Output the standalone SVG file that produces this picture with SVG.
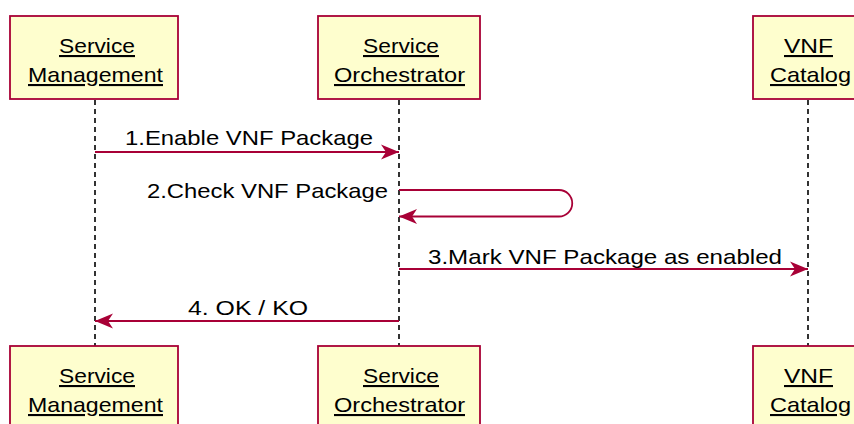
<svg xmlns="http://www.w3.org/2000/svg" width="854" height="424" viewBox="0 0 854 424">
<style>
.box{fill:#FEFECE;stroke:#A80036;stroke-width:1.8}
.life{stroke:#000;stroke-width:1.6;stroke-dasharray:5,4;fill:none}
.msg{stroke:#A80036;stroke-width:1.8;fill:none}
.t{font-family:"Liberation Sans",Arial,sans-serif;font-size:21px;fill:#000}
.n{font-family:"Liberation Sans",Arial,sans-serif;font-size:21px;fill:#000;text-decoration:underline;text-anchor:middle}
</style>
<defs>
<marker id="ah" markerUnits="userSpaceOnUse" markerWidth="22" markerHeight="18" viewBox="-20 -9 22 18" refX="0" refY="0" orient="auto">
<path d="M0,0 L-18,-7.5 L-13,0 L-18,7.5 Z" fill="#A80036"/>
</marker>
</defs>
<g id="lifelines">
<line class="life" x1="95" y1="100" x2="95" y2="346"/>
<line class="life" x1="399" y1="100" x2="399" y2="346"/>
<line class="life" x1="808" y1="100" x2="808" y2="346"/>
</g>
<g id="sm-top">
<rect class="box" x="10" y="16" width="168" height="83"/>
<text class="n" x="97" y="53" textLength="76" lengthAdjust="spacingAndGlyphs">Service</text>
<text class="n" x="95.5" y="82" textLength="135" lengthAdjust="spacingAndGlyphs">Management</text>
</g>
<g id="so-top">
<rect class="box" x="318" y="16" width="162" height="83"/>
<text class="n" x="401" y="53" textLength="76" lengthAdjust="spacingAndGlyphs">Service</text>
<text class="n" x="399.5" y="82" textLength="131" lengthAdjust="spacingAndGlyphs">Orchestrator</text>
</g>
<g id="vc-top">
<rect class="box" x="753" y="16" width="110" height="83"/>
<text class="n" x="808.5" y="53" textLength="49" lengthAdjust="spacingAndGlyphs">VNF</text>
<text class="n" x="810.5" y="82" textLength="81" lengthAdjust="spacingAndGlyphs">Catalog</text>
</g>
<g id="sm-bottom">
<rect class="box" x="10" y="346" width="168" height="83"/>
<text class="n" x="97" y="383" textLength="76" lengthAdjust="spacingAndGlyphs">Service</text>
<text class="n" x="95.5" y="412" textLength="135" lengthAdjust="spacingAndGlyphs">Management</text>
</g>
<g id="so-bottom">
<rect class="box" x="318" y="346" width="162" height="83"/>
<text class="n" x="401" y="383" textLength="76" lengthAdjust="spacingAndGlyphs">Service</text>
<text class="n" x="399.5" y="412" textLength="131" lengthAdjust="spacingAndGlyphs">Orchestrator</text>
</g>
<g id="vc-bottom">
<rect class="box" x="753" y="346" width="110" height="83"/>
<text class="n" x="808.5" y="383" textLength="49" lengthAdjust="spacingAndGlyphs">VNF</text>
<text class="n" x="810.5" y="412" textLength="81" lengthAdjust="spacingAndGlyphs">Catalog</text>
</g>
<g id="connectors">
<line class="msg" x1="95" y1="152" x2="399" y2="152" marker-end="url(#ah)"/>
<text class="t" x="125" y="145" textLength="248" lengthAdjust="spacingAndGlyphs">1.Enable VNF Package</text>
<path class="msg" d="M399,190 H559 A13,13 0 0 1 559,216.5 H399" marker-end="url(#ah)"/>
<text class="t" x="147" y="198" textLength="241" lengthAdjust="spacingAndGlyphs">2.Check VNF Package</text>
<line class="msg" x1="399" y1="269" x2="808" y2="269" marker-end="url(#ah)"/>
<text class="t" x="428" y="264" textLength="354" lengthAdjust="spacingAndGlyphs">3.Mark VNF Package as enabled</text>
<line class="msg" x1="399" y1="321" x2="95" y2="321" marker-end="url(#ah)"/>
<text class="t" x="188" y="315" textLength="120" lengthAdjust="spacingAndGlyphs">4. OK / KO</text>
</g>
</svg>
